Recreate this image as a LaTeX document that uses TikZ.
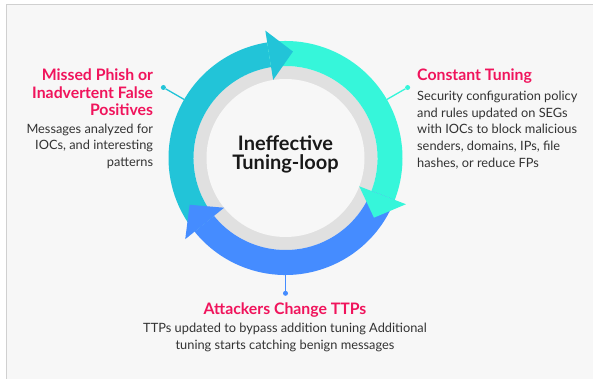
\documentclass[tikz,border=0pt]{standalone}
\usepackage{fontspec}
\setmainfont{Lato}
\usepackage{tikz}
\usepackage{xcolor}
\definecolor{ColCyan}{RGB}{34,196,216}
\definecolor{ColTeal}{RGB}{54,246,218}
\definecolor{ColBlue}{RGB}{69,140,255}
\definecolor{ColPink}{RGB}{240,20,92}
\definecolor{ColText}{RGB}{51,51,51}
\definecolor{ColRing}{RGB}{224,224,224}
\definecolor{ColBg}{RGB}{247,247,247}
\definecolor{ColBorder}{RGB}{208,208,208}
\tikzstyle{TitleText}=[font=\bfseries\fontsize{15.8}{17.5}\selectfont,text=ColPink,inner sep=0pt]
\tikzstyle{BodyText}=[font=\fontsize{12.8}{16.8}\selectfont,text=ColText,inner sep=0pt]
\tikzstyle{CenterText}=[font=\bfseries\fontsize{20}{19}\selectfont,text=black!90,inner sep=0pt,
align=center]
\tikzstyle{DotNode}=[circle,inner sep=0pt,minimum size=5pt]
\tikzstyle{LeadLine}=[line width=1.3pt]

\begin{document}
\begin{tikzpicture}[x=1pt,y=1pt]
        % page and panel
        \fill[white](-285.5,-221)rectangle(307.5,158);
        \clip(-285.5,-221)rectangle(307.5,158);
        \filldraw[fill=ColBg,draw=ColBorder,line width=1.5pt](-278.8,-240)rectangle(330,153.3);
        % grey ring
        \fill[ColRing](0,0)circle(92);
        \fill[ColBg](0,0)circle(79);
        % arc bodies
        \fill[ColCyan](219:117)arc(219:99:117)--(99:92)arc(99:219:92)--cycle;
        \fill[ColTeal](99:117)arc(99:-21:117)--(-21:92)arc(-21:99:92)--cycle;
        \fill[ColBlue](-21:117)arc(-21:-141:117)--(-141:92)arc(-141:-21:92)--cycle;
        % arrow heads
        \fill[ColCyan](99:79)--(99:129)--(86:106.7)--cycle;
        \fill[ColTeal](-21:79)--(-21:129)--(-34:106.7)--cycle;
        \fill[ColBlue](-141:79)--(-141:129)--(-154:106.7)--cycle;
        % leader lines
        \coordinate(ringL)at(150:117);
        \coordinate(ringR)at(30:117);
        \coordinate(ringB)at(270:117);
        \node[DotNode,fill=ColCyan](dotL)at(150:141){};
        \node[DotNode,fill=ColTeal](dotR)at(30:141){};
        \node[DotNode,fill=ColBlue](dotB)at(270:135.3){};
        \draw[LeadLine,ColCyan](ringL)--(dotL);
        \draw[LeadLine,ColTeal](ringR)--(dotR);
        \draw[LeadLine,ColBlue](ringB)--(dotB);
        % texts (base = last line)
        \node[CenterText](loop)at(0,4){Ineffective\\Tuning-loop};
        \node[TitleText,anchor=base east,align=right](missT)at(-132.2,42.3){Missed Phish or\\Inadvertent False\\Positives};
        \node[BodyText,anchor=base east,align=right](missB)at(-132.2,-8.7){Messages analyzed for\\IOCs, and interesting\\patterns};
        \node[TitleText,anchor=base west](tuneT)at(131.5,77.3){Constant Tuning};
        \node[BodyText,anchor=base west,align=left](tuneB)at(131.5,-9.5){Security configuration policy\\and rules updated on SEGs\\with IOCs to block malicious\\senders, domains, IPs, file\\hashes, or reduce FPs};
        \node[TitleText,anchor=base](attT)at(-0.5,-156.7){Attackers Change TTPs};
        \node[BodyText,anchor=base,align=center](attB)at(-0.5,-191){TTPs updated to bypass addition tuning Additional\\tuning starts catching benign messages};
\end{tikzpicture}
\end{document}
